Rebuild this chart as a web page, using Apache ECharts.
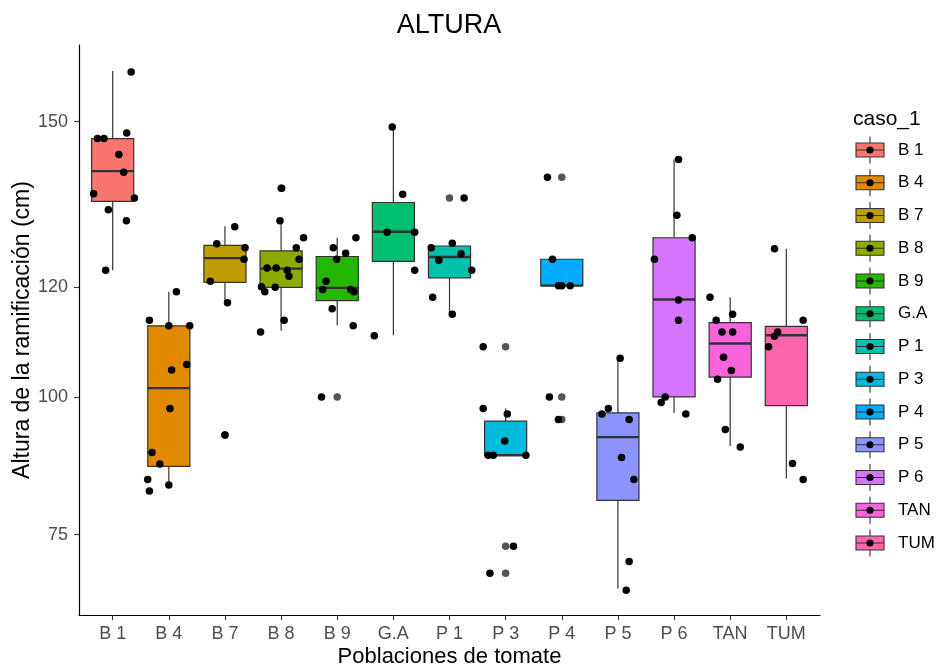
<!DOCTYPE html>
<html>
<head>
<meta charset="utf-8">
<script src="https://cdn.jsdelivr.net/npm/echarts@6/dist/echarts.min.js"></script>
<style>html,body{margin:0;padding:0;background:#fff}#chart{width:937px;height:668px}</style>
</head>
<body>
<div id="chart"></div>
<script>
// ---------- data ----------
const categories = ['B 1','B 4','B 7','B 8','B 9','G.A','P 1','P 3','P 4','P 5','P 6','TAN','TUM'];
const colors = ['#F8766D','#E18A00','#BE9C00','#8CAB00','#24B700','#00BE70','#00C1AB','#00BBDA','#00ACFC','#8B93FF','#D575FE','#F962DD','#FF65AC'];
const yTicks = [75, 100, 120, 150];
// box statistics
const boxMin = [123.0, 84.0, 117.0, 112.0, 113.0, 111.2, 115.0, 89.4, 120.2, 65.2, 97.1, 91.1, 85.2];
const boxQ1  = [135.5, 87.4, 120.8, 119.9, 117.5, 124.6, 121.6, 89.4, 120.2, 81.2, 100.0, 103.6, 98.4];
const boxMed = [141.0, 101.6, 125.2, 123.3, 119.8, 130.0, 125.4, 89.4, 120.2, 92.7, 117.7, 109.7, 111.2];
const boxQ3  = [146.9, 112.9, 127.5, 126.5, 125.5, 135.3, 127.4, 95.6, 125.0, 97.1, 128.9, 113.5, 112.8];
const boxMax = [159.2, 119.1, 131.0, 132.0, 128.9, 149.0, 127.4, 97.9, 125.0, 106.9, 143.1, 118.1, 126.9];
// jittered points: [category index, horizontal jitter, value]
const jitterPoints = [
  [0,0.33,159.0],[0,-0.27,146.9],[0,-0.155,146.9],[0,0.25,147.9],[0,0.11,144.0],[0,0.196,140.8],
  [0,-0.34,136.9],[0,0.387,136.1],[0,-0.077,134.0],[0,0.244,132.0],[0,-0.125,123.0],
  [1,0.135,119.1],[1,-0.346,113.9],[1,0.0,112.9],[1,0.373,112.9],[1,0.32,105.9],[1,0.05,104.9],
  [1,0.02,97.9],[1,-0.30,89.9],[1,-0.16,87.8],[1,-0.376,85.0],[1,-0.346,82.9],[1,0.0,84.0],
  [2,0.175,130.9],[2,-0.146,127.8],[2,0.358,127.1],[2,0.34,125.0],[2,-0.26,121.0],[2,0.045,117.1],[2,0.0,93.1],
  [3,0.01,137.9],[3,-0.02,132.0],[3,0.40,128.9],[3,0.27,127.1],[3,0.32,125.0],[3,-0.25,123.4],[3,-0.087,123.4],
  [3,0.11,123.0],[3,0.14,121.9],[3,-0.35,120.0],[3,-0.29,119.1],[3,-0.105,119.9],[3,0.055,113.9],[3,-0.365,111.8],
  [4,0.333,128.9],[4,-0.07,127.1],[4,0.15,126.1],[4,-0.01,125.0],[4,-0.2,121.0],[4,-0.26,119.5],[4,0.24,119.5],
  [4,0.30,119.1],[4,-0.09,116.0],[4,0.285,112.9],[4,-0.28,100.0],
  [5,-0.02,149.0],[5,0.166,136.8],[5,-0.11,129.9],[5,0.38,129.9],[5,0.38,123.0],[5,-0.34,111.1],
  [6,0.26,136.1],[6,-0.325,127.1],[6,0.05,127.9],[6,0.205,126.0],[6,-0.19,124.8],[6,0.396,123.0],[6,-0.30,118.1],[6,0.05,115.0],
  [7,-0.40,109.1],[7,-0.40,97.9],[7,0.03,96.9],[7,-0.016,92.0],[7,-0.31,89.4],[7,-0.22,89.4],[7,0.36,89.4],[7,0.14,72.9],[7,-0.28,68.0],
  [8,-0.255,139.9],[8,-0.166,125.0],[8,-0.06,120.2],[8,0.0,120.2],[8,0.15,120.2],[8,-0.22,100.0],[8,-0.06,95.9],
  [9,0.04,107.0],[9,-0.285,96.9],[9,-0.17,97.9],[9,0.2,95.9],[9,0.064,89.0],[9,0.285,85.0],[9,0.2,70.1],[9,0.148,64.9],
  [10,0.08,143.1],[10,0.05,133.0],[10,0.325,128.9],[10,-0.35,125.0],[10,0.08,117.6],[10,0.08,113.9],[10,-0.23,99.0],[10,-0.157,100.0],[10,0.21,96.9],
  [11,-0.36,118.1],[11,0.043,115.0],[11,-0.25,113.9],[11,-0.146,111.8],[11,0.043,111.8],[11,-0.118,107.2],[11,0.02,104.8],
  [11,-0.225,103.2],[11,-0.087,94.1],[11,0.18,90.9],
  [12,-0.21,126.9],[12,0.30,113.9],[12,-0.155,111.8],[12,-0.21,111.0],[12,-0.316,109.1],[12,0.11,87.9],[12,0.30,85.0]
];
// boxplot outliers: [category index, value]
const outliers = [[2,93.1],[3,137.9],[4,100.0],[6,136.1],[7,109.1],[7,72.9],[7,68.0],[8,139.9],[8,100.0],[8,95.9]];

// ---------- chart ----------
const FONT = '"Liberation Sans", Arial, Helvetica, sans-serif';
const BOX_WIDTH = 0.75;
const LINE_COL = '#333333';

function renderBox(params, api) {
  const x = api.value(0);
  const pMin = api.coord([x, api.value(1)]);
  const pQ1 = api.coord([x, api.value(2)]);
  const pMed = api.coord([x, api.value(3)]);
  const pQ3 = api.coord([x, api.value(4)]);
  const pMax = api.coord([x, api.value(5)]);
  const hw = api.size([BOX_WIDTH, 0])[0] / 2;
  const fill = api.visual('color');
  return {
    type: 'group',
    children: [
      {type: 'line', shape: {x1: pMin[0], y1: pMin[1], x2: pQ1[0], y2: pQ1[1]}, style: {stroke: LINE_COL, lineWidth: 1.2}},
      {type: 'line', shape: {x1: pQ3[0], y1: pQ3[1], x2: pMax[0], y2: pMax[1]}, style: {stroke: LINE_COL, lineWidth: 1.2}},
      {type: 'rect', shape: {x: pQ1[0] - hw, y: pQ3[1], width: 2 * hw, height: pQ1[1] - pQ3[1]},
        style: {fill: fill, stroke: LINE_COL, lineWidth: 1.2}},
      {type: 'line', shape: {x1: pMed[0] - hw, y1: pMed[1], x2: pMed[0] + hw, y2: pMed[1]}, style: {stroke: LINE_COL, lineWidth: 2.4}}
    ]
  };
}

const boxSeries = categories.map((name, i) => ({
  type: 'custom',
  name: name,
  renderItem: renderBox,
  itemStyle: {color: colors[i]},
  dimensions: ['x', 'min', 'q1', 'med', 'q3', 'max'],
  encode: {x: 0, y: [1, 2, 3, 4, 5]},
  data: [[i, boxMin[i], boxQ1[i], boxMed[i], boxQ3[i], boxMax[i]]],
  silent: true,
  z: 2
}));

const keyBox = 'path://M0,0 M37,27 M0,6.5 L28,6.5 L28,20.5 L0,20.5 Z M0,13.5 L28,13.5 M14,0 L14,6.5 M14,20.5 L14,27';
const keyDot = 'path://M0,0 M37,27 M17.6,13.5 A3.6,3.6 0 1 1 10.4,13.5 A3.6,3.6 0 1 1 17.6,13.5 Z';

const option = {
  animation: false,
  backgroundColor: '#ffffff',
  textStyle: {fontFamily: FONT},
  title: [
    {text: 'ALTURA', left: 444, top: 7, textAlign: 'center',
      textStyle: {fontFamily: FONT, fontSize: 27, fontWeight: 'normal', color: '#000'}},
    {text: 'caso_1', left: 848, top: 104,
      textStyle: {fontFamily: FONT, fontSize: 21, fontWeight: 'normal', color: '#000'}}
  ],
  grid: {left: 79, top: 45, width: 741, height: 570, containLabel: false, outerBoundsMode: 'none'},
  xAxis: {
    type: 'value', min: -0.6, max: 12.6,
    name: 'Poblaciones de tomate', nameLocation: 'middle', nameGap: 31, nameMoveOverlap: false,
    nameTextStyle: {fontFamily: FONT, fontSize: 22, color: '#000'},
    axisLine: {show: true, onZero: false, lineStyle: {color: '#000', width: 1.2}},
    axisTick: {show: true, customValues: categories.map((c, i) => i), length: 5, lineStyle: {color: LINE_COL, width: 1.1}},
    axisLabel: {customValues: categories.map((c, i) => i), formatter: v => categories[Math.round(v)],
      margin: 10, fontFamily: FONT, fontSize: 18, color: '#4D4D4D'},
    splitLine: {show: false}
  },
  yAxis: {
    type: 'value', min: 60.4, max: 163.9,
    name: 'Altura de la ramificación (cm)', nameLocation: 'middle', nameGap: 45, nameRotate: 90, nameMoveOverlap: false,
    nameTextStyle: {fontFamily: FONT, fontSize: 23, color: '#000'},
    axisLine: {show: true, onZero: false, lineStyle: {color: '#000', width: 1.2}},
    axisTick: {show: true, customValues: yTicks, length: 5, lineStyle: {color: LINE_COL, width: 1.1}},
    axisLabel: {customValues: yTicks, margin: 11, fontFamily: FONT, fontSize: 18, color: '#4D4D4D'},
    splitLine: {show: false}
  },
  legend: [
    {
      data: categories, orient: 'vertical', left: 855.45, top: 135.95, padding: 0,
      itemWidth: 37, itemHeight: 27, itemGap: 4.65, icon: keyBox,
      itemStyle: {borderColor: LINE_COL, borderWidth: 1.1},
      textStyle: {fontFamily: FONT, fontSize: 17, color: '#000'},
      selectedMode: false
    },
    {
      data: categories, orient: 'vertical', left: 856, top: 136.5, padding: 0,
      itemWidth: 37, itemHeight: 27, itemGap: 5.75, icon: keyDot,
      itemStyle: {color: '#000', borderWidth: 0},
      textStyle: {fontFamily: FONT, fontSize: 17, color: 'rgba(0,0,0,0)'},
      selectedMode: false
    }
  ],
  series: boxSeries.concat([
    {
      type: 'scatter', name: 'outliers', symbol: 'circle', symbolSize: 7.5,
      itemStyle: {color: '#555555', opacity: 1}, silent: true, z: 3,
      data: outliers.map(p => [p[0], p[1]])
    },
    {
      type: 'scatter', name: 'points', symbol: 'circle', symbolSize: 7.5,
      itemStyle: {color: '#000000', opacity: 1}, silent: true, z: 4,
      data: jitterPoints.map(p => [p[0] + p[1], p[2]])
    }
  ])
};

const chart = echarts.init(document.getElementById('chart'), null, {renderer: 'canvas'});
chart.setOption(option);
</script>
</body>
</html>
